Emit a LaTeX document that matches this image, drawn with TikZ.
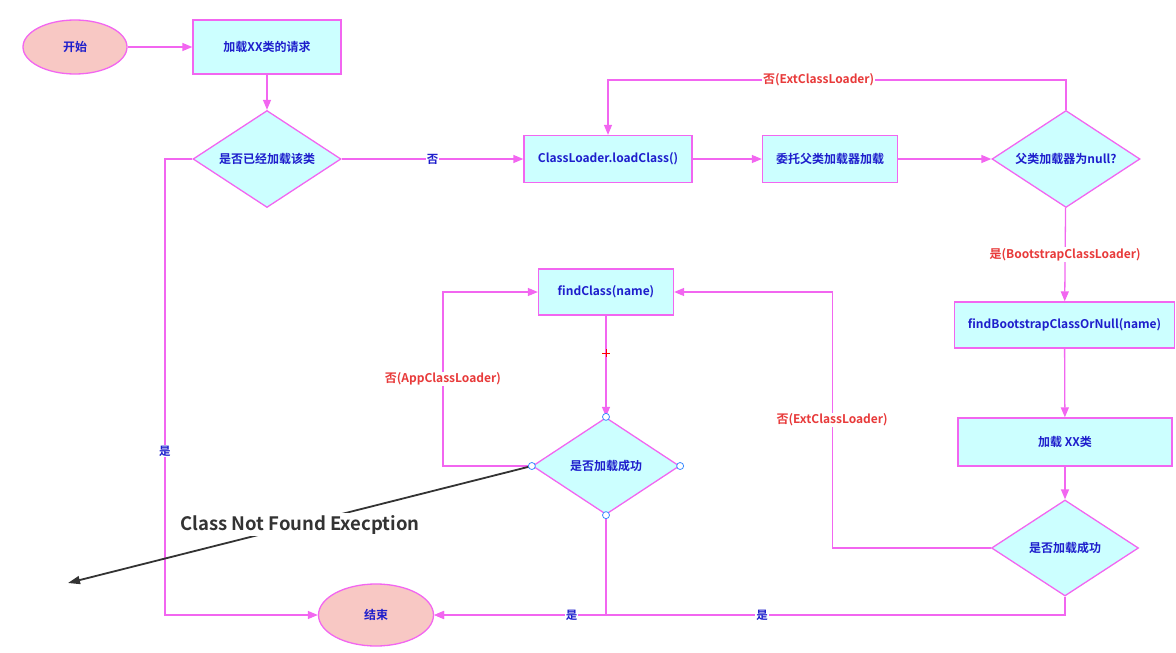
\documentclass[tikz,border=0pt]{standalone}
\usepackage{fontspec}
\setmainfont{Noto Sans CJK SC}[BoldFont={Noto Sans CJK SC Bold}]
\usetikzlibrary{shapes.geometric,arrows.meta}
\definecolor{mag}{HTML}{F266F0}
\definecolor{cyanfill}{HTML}{CCFFFF}
\definecolor{pinkfill}{HTML}{F8C8C4}
\definecolor{nodeblue}{HTML}{1E1ECC}
\definecolor{lblred}{HTML}{E83A3A}
\definecolor{excgray}{HTML}{333333}
\definecolor{handleblue}{HTML}{3C8CFF}
\begin{document}
\begin{tikzpicture}[x=1pt,y=-1pt,
  base/.style={draw=mag, line width=1.3pt, inner sep=0pt, text=nodeblue,
    font=\bfseries\fontsize{12}{14}\selectfont},
  proc/.style={base, rectangle, fill=cyanfill},
  term/.style={base, ellipse, fill=pinkfill},
  dec/.style={base, diamond, shape aspect=1.53, fill=cyanfill, minimum width=148pt, minimum height=97pt},
  flow/.style={draw=mag, line width=1.3pt, -{Triangle[length=10pt,width=8pt]}},
  rlbl/.style={fill=white, inner sep=1pt, text=lblred, font=\bfseries\fontsize{12}{14}\selectfont},
  blbl/.style={fill=white, inner sep=1pt, text=nodeblue, font=\bfseries\fontsize{11.5}{13}\selectfont},
  exc/.style={draw=excgray, line width=1.8pt, -{Triangle[length=12pt,width=8pt]}},
  exclbl/.style={fill=white, inner sep=2pt, text=excgray, font=\bfseries\fontsize{18.5}{22}\selectfont},
  handle/.style={draw=handleblue, fill=white, line width=0.8pt}
]
\useasboundingbox (0,0) rectangle (1176,653);

\node[term, minimum width=104pt, minimum height=54pt] (start) at (75,47) {开始};
\node[proc, minimum width=148pt, minimum height=54pt] (req) at (267,47) {加载XX类的请求};
\node[dec] (d1) at (267,159) {是否已经加载该类};
\node[proc, minimum width=168pt, minimum height=47pt] (cl) at (608,159) {ClassLoader.loadClass()};
\node[proc, minimum width=135pt, minimum height=47pt] (dele) at (830,159) {委托父类加载器加载};
\node[dec] (d2) at (1066,159) {父类加载器为null?};
\node[proc, minimum width=220pt, minimum height=46pt] (fb) at (1064.5,325) {findBootstrapClassOrNull(name)};
\node[proc, minimum width=214pt, minimum height=48pt] (lx) at (1065,442) {加载 XX类};
\node[dec, minimum width=147pt, minimum height=96pt] (d3) at (1065,548) {是否加载成功};
\node[proc, minimum width=135pt, minimum height=46pt] (fc) at (606,292) {findClass(name)};
\node[dec, minimum width=147pt, minimum height=97pt] (d4) at (606,466) {是否加载成功};
\node[term, minimum width=115pt, minimum height=62pt] (end) at (376,615) {结束};
\coordinate (excEnd) at (68,583);

\draw[flow] (start) -- (req);
\draw[flow] (req) -- (d1);
\draw[flow] (d1) -- node[blbl]{否} (cl);
\draw[flow] (cl) -- (dele);
\draw[flow] (dele) -- (d2);
\draw[flow] (d2.north) -- ++(0,-30) -| node[pos=0.27, rlbl]{否(ExtClassLoader)} (cl.north);
\draw[flow] (d2) -- node[rlbl]{是(BootstrapClassLoader)} (fb);
\draw[flow] (fb) -- (lx);
\draw[flow] (lx) -- (d3);
\draw[flow] (d3.west) -| node[pos=0.75, rlbl]{否(ExtClassLoader)} ([xshift=158pt]fc.east) -- (fc.east);
\draw[flow] (d4.west) -| node[pos=0.75, rlbl]{否(AppClassLoader)} ([xshift=-95pt]fc.west) -- (fc.west);
\draw[flow] (fc) -- (d4);
\draw[flow] (d3.south) |- node[pos=0.74, blbl]{是} (end.east);
\draw[flow] (d4.south) |- node[pos=0.6, blbl]{是} (end.east);
\draw[flow] (d1.west) -| node[pos=0.82, blbl]{是} ([xshift=-153pt]end.west) -- (end.west);

\draw[exc] (d4.west) -- node[pos=0.5, exclbl]{Class Not Found Execption} (excEnd);

\foreach \a in {north,south,east,west} \draw[handle] (d4.\a) circle (3.5pt);
\path (fc.south) -- coordinate[pos=0.37] (plus) (d4.north);
\draw[red, line width=0.8pt] (plus) +(-4,0) -- +(4,0) (plus) +(0,-4) -- +(0,4);
\end{tikzpicture}
\end{document}
